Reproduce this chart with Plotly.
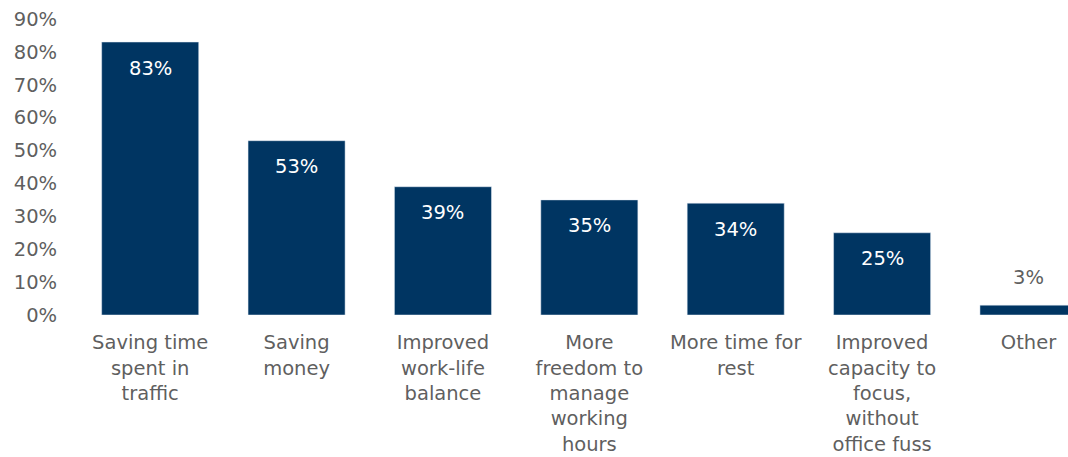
import plotly.graph_objects as go

categories = ["Saving time<br>spent in<br>traffic", "Saving<br>money", "Improved<br>work-life<br>balance",
              "More<br>freedom to<br>manage<br>working<br>hours", "More time for<br>rest",
              "Improved<br>capacity to<br>focus,<br>without<br>office fuss", "Other"]
values = [83, 53, 39, 35, 34, 25, 3]
labels = ["83%", "53%", "39%", "35%", "34%", "25%", "3%"]

NAVY = "#003562"
GREY = "#5f5f5f"
FONT = "DejaVu Sans, Open Sans, sans-serif"
FS = 19.5

fig = go.Figure(go.Bar(x=list(range(len(values))), y=values, marker_color=NAVY, width=0.663,
                       hoverinfo="skip"))

for i, (v, t) in enumerate(zip(values, labels)):
    inside = v > 10
    fig.add_annotation(x=i, y=v, text=t, showarrow=False,
                       yshift=-26 if inside else 28,
                       font=dict(color="white" if inside else GREY, size=FS, family=FONT))

fig.update_layout(
    width=1068, height=457,
    margin=dict(l=77, r=0, t=19, b=142),
    plot_bgcolor="white", paper_bgcolor="white",
    showlegend=False,
    font=dict(family=FONT, size=FS, color=GREY),
    xaxis=dict(range=[-0.5, 6.27], tickmode="array", tickvals=list(range(len(values))),
               ticktext=categories, showgrid=False, zeroline=False, showline=False,
               ticks="outside", ticklen=10, tickcolor="white", tickangle=0, automargin=False,
               tickfont=dict(size=FS, color=GREY, family=FONT)),
    yaxis=dict(range=[0, 90], tickvals=list(range(0, 91, 10)), automargin=False,
               ticktext=[f"{v}%" for v in range(0, 91, 10)], showgrid=False, zeroline=False,
               showline=False, ticks="outside", ticklen=15, tickcolor="white",
               tickfont=dict(size=FS, color=GREY, family=FONT)),
)

fig.write_html("out.html", config={"displayModeBar": False},
               post_script="document.body.style.margin='0';")
